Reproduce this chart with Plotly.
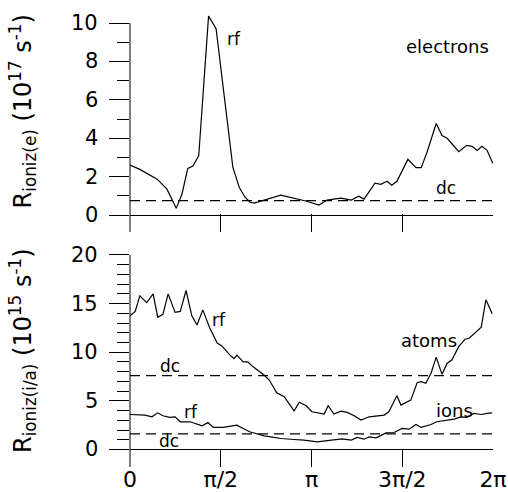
import math
import plotly.graph_objects as go
from plotly.subplots import make_subplots

# ---- data (phase in radians) ----
e_phase = [0.00, 0.17, 0.47, 0.64, 0.80, 0.90, 1.00, 1.09, 1.19, 1.36, 1.49, 1.59, 1.70, 1.78,
           1.89, 1.99, 2.08, 2.15, 2.61, 2.84, 3.06, 3.27, 3.41, 3.65, 3.83, 3.96, 4.05, 4.24,
           4.34, 4.45, 4.53, 4.62, 4.81, 4.95, 5.04, 5.14, 5.30, 5.40, 5.49, 5.69, 5.83, 5.92,
           6.01, 6.09, 6.18, 6.28]
e_rf = [2.6, 2.38, 1.87, 1.35, 0.35, 1.1, 2.43, 2.55, 3.1, 10.36, 9.7, 7.2, 4.6, 2.5,
        1.45, 0.93, 0.67, 0.62, 1.04, 0.88, 0.72, 0.52, 0.78, 0.88, 0.78, 0.98, 0.83, 1.66,
        1.6, 1.76, 1.55, 1.76, 2.9, 2.47, 2.47, 3.26, 4.77, 4.14, 4.0, 3.3, 3.63, 3.58,
        3.37, 3.58, 3.37, 2.7]
e_dc = 0.75

a_phase = [0.00, 0.09, 0.17, 0.29, 0.40, 0.48, 0.57, 0.66, 0.78, 0.87, 0.97, 1.07, 1.16, 1.26,
           1.38, 1.51, 1.59, 1.73, 1.80, 1.85, 1.96, 2.04, 2.13, 2.32, 2.41, 2.54, 2.67, 2.84,
           2.93, 3.05, 3.15, 3.27, 3.36, 3.43, 3.53, 3.65, 3.76, 3.88, 4.00, 4.14, 4.26, 4.40,
           4.48, 4.62, 4.69, 4.78, 4.86, 4.97, 5.04, 5.12, 5.21, 5.30, 5.40, 5.49, 5.57, 5.69,
           5.80, 5.87, 5.99, 6.08, 6.16, 6.27]
a_rf = [13.74, 14.2, 15.8, 15.1, 16.0, 13.6, 13.9, 16.0, 14.1, 14.2, 16.35, 13.74, 12.8, 14.36,
        12.5, 10.95, 10.65, 9.7, 9.35, 9.7, 9.0, 9.0, 8.5, 7.66, 7.14, 5.84, 5.43, 3.98,
        4.86, 4.5, 3.88, 3.78, 3.64, 4.5, 3.64, 3.95, 3.81, 3.47, 3.02, 3.36, 3.43, 3.54,
        3.88, 5.53, 4.57, 4.85, 5.08, 6.87, 6.97, 6.8, 7.84, 9.5, 7.73, 8.87, 9.2, 10.58,
        11.34, 11.44, 12.12, 12.58, 15.4, 13.95]
a_dc = 7.6

i_phase = [0.00, 0.26, 0.38, 0.48, 0.57, 0.69, 0.78, 0.87, 1.04, 1.25, 1.35, 1.44, 1.61, 1.85,
           1.96, 2.08, 2.15, 2.32, 2.44, 2.61, 2.84, 3.01, 3.24, 3.39, 3.53, 3.67, 3.83, 3.93,
           4.05, 4.14, 4.26, 4.43, 4.57, 4.71, 4.83, 4.95, 5.04, 5.21, 5.31, 5.47, 5.61, 5.73,
           5.83, 5.95, 6.08, 6.18, 6.27]
i_rf = [3.6, 3.54, 3.36, 3.77, 3.47, 3.3, 3.36, 2.85, 2.85, 2.43, 2.78, 2.27, 2.27, 2.5,
        2.16, 1.8, 1.7, 1.4, 1.3, 1.13, 1.03, 0.96, 0.78, 0.89, 1.03, 1.1, 0.96, 1.24,
        1.06, 1.3, 1.2, 1.7, 1.75, 2.16, 2.09, 2.57, 2.27, 2.57, 2.85, 3.02, 3.12, 3.36,
        3.3, 3.71, 3.6, 3.71, 3.77]
i_dc = 1.6

x_tickvals = [0, math.pi / 2, math.pi, 3 * math.pi / 2, 2 * math.pi]
x_ticktext = ["0", "π/2", "π", "3π/2", "2π"]
e_yticks = [0, 2, 4, 6, 8, 10]
e_yminor = [1, 3, 5, 7, 9]
ia_yticks = [0, 5, 10, 15, 20]
ia_yminor = list(range(0, 21))

FONT = "DejaVu Sans, Verdana, sans-serif"
LW = 1.2
PLOT_W = 363  # plot-area width in px (for placing labels in paper units)

fig = make_subplots(rows=2, cols=1, shared_xaxes=False, vertical_spacing=0.0)

line = dict(color="black", width=LW)
dash = dict(color="black", width=LW, dash="10px,6px")

fig.add_trace(go.Scatter(x=e_phase, y=e_rf, mode="lines", line=line), row=1, col=1)
fig.add_trace(go.Scatter(x=[0, 2 * math.pi], y=[e_dc, e_dc], mode="lines", line=dash), row=1, col=1)
fig.add_trace(go.Scatter(x=a_phase, y=a_rf, mode="lines", line=line), row=2, col=1)
fig.add_trace(go.Scatter(x=[0, 2 * math.pi], y=[a_dc, a_dc], mode="lines", line=dash), row=2, col=1)
fig.add_trace(go.Scatter(x=i_phase, y=i_rf, mode="lines", line=line), row=2, col=1)
fig.add_trace(go.Scatter(x=[0, 2 * math.pi], y=[i_dc, i_dc], mode="lines", line=dash), row=2, col=1)

E_RANGE = [-0.88, 10.47]
IA_RANGE = [-1.8, 20]

xcommon = dict(range=[0, 2 * math.pi], tickvals=x_tickvals, ticktext=x_ticktext,
               ticks="inside", ticklen=18, tickwidth=1, tickcolor="black",
               showline=False, showgrid=False, zeroline=False, automargin=False,
               tickfont=dict(family=FONT, size=22, color="black"))
ycommon = dict(ticks="outside", ticklen=20, tickwidth=1, tickcolor="black",
               showline=False, showgrid=False, automargin=False, showticklabels=False,
               zeroline=True, zerolinecolor="black", zerolinewidth=1)
fig.update_layout(
    xaxis=dict(xcommon, domain=[0, 1], showticklabels=False),
    xaxis2=dict(xcommon, domain=[0, 1], showticklabels=True, ticklabelstandoff=-3),
    yaxis=dict(ycommon, domain=[0.5188, 1], range=E_RANGE, tickvals=e_yticks,
               minor=dict(tickvals=e_yminor, ticks="outside", ticklen=12, tickcolor="black")),
    yaxis2=dict(ycommon, domain=[0, 0.468], range=IA_RANGE, tickvals=ia_yticks,
                minor=dict(tickvals=ia_yminor, ticks="outside", ticklen=12, tickcolor="black")),
    width=508, height=492,
    margin=dict(l=130, r=15, t=14, b=25, autoexpand=False),
    paper_bgcolor="white", plot_bgcolor="white",
    showlegend=False,
)

# y tick labels, right-aligned 10 px left of the tick marks
yl_font = dict(family=FONT, size=21, color="black")
for yr, vals in (("y", e_yticks), ("y2", ia_yticks)):
    for v in vals:
        fig.add_annotation(xref="paper", yref=yr, x=-30 / PLOT_W, y=v, text=str(v),
                           showarrow=False, font=yl_font, xanchor="right", yanchor="middle")

# left axis lines (top panel line stops at the top tick)
fig.add_shape(type="line", xref="x domain", yref="y", x0=0, x1=0,
              y0=E_RANGE[0], y1=e_yticks[-1], line=dict(color="black", width=1))
fig.add_shape(type="line", xref="x2 domain", yref="y2", x0=0, x1=0,
              y0=IA_RANGE[0], y1=ia_yticks[-1], line=dict(color="black", width=1))

small = dict(family=FONT, size=17, color="black")
big = dict(family=FONT, size=18, color="black")
labels = [
    ("x", "y", 1.80, 9.17, "rf", small),
    ("x", "y", 5.50, 8.80, "electrons", big),
    ("x", "y", 5.47, 1.41, "dc", small),
    ("x2", "y2", 1.54, 13.3, "rf", small),
    ("x2", "y2", 0.69, 8.6, "dc", small),
    ("x2", "y2", 1.06, 3.86, "rf", small),
    ("x2", "y2", 0.68, 0.87, "dc", small),
    ("x2", "y2", 5.18, 11.16, "atoms", big),
    ("x2", "y2", 5.61, 3.96, "ions", big),
]
for xr, yr, x, y, t, f in labels:
    fig.add_annotation(xref=xr, yref=yr, x=x, y=y, text=t, showarrow=False,
                       font=f, xanchor="center", yanchor="middle")

tfont = dict(family=FONT, size=24, color="black")
fig.add_annotation(xref="paper", yref="paper", x=(22 - 130) / PLOT_W, y=0.785,
                   text="R<sub>ioniz(e)</sub> (10<sup>17</sup> s<sup>-1</sup>)",
                   textangle=-90, showarrow=False, font=tfont,
                   xanchor="center", yanchor="middle")
fig.add_annotation(xref="paper", yref="paper", x=(22 - 130) / PLOT_W, y=0.256,
                   text="R<sub>ioniz(i/a)</sub> (10<sup>15</sup> s<sup>-1</sup>)",
                   textangle=-90, showarrow=False, font=tfont,
                   xanchor="center", yanchor="middle")

fig.write_html("out.html")
